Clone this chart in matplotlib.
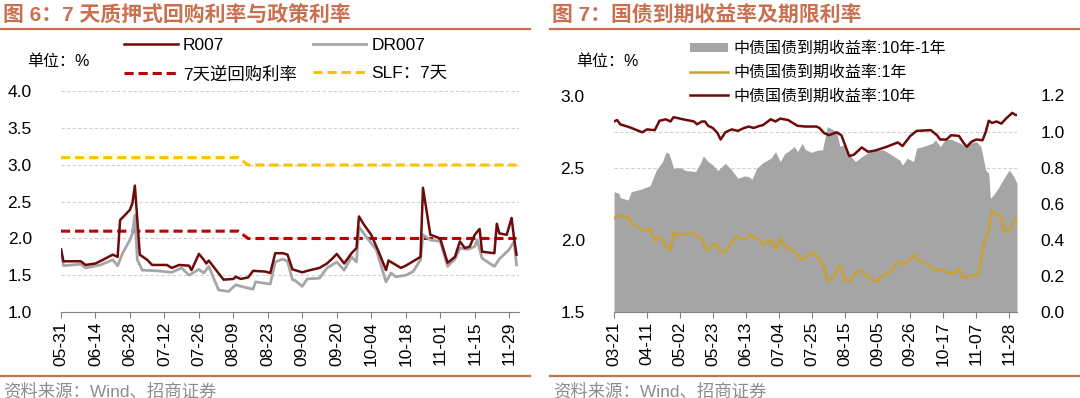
import matplotlib
matplotlib.use('Agg')
import matplotlib.pyplot as plt
import matplotlib.dates as mdates
from matplotlib.lines import Line2D
from matplotlib.patches import Patch
import pandas as pd

plt.rcParams['font.family'] = ['Liberation Sans', 'Noto Sans CJK SC', 'DejaVu Sans']

# ---- 图6 data: 7天质押式回购利率与政策利率 (2023) ----
r007_dates = ['05-31', '06-01', '06-08', '06-10', '06-14', '06-17', '06-21', '06-23', '06-24', '06-28',
              '06-29', '06-30', '07-02', '07-05', '07-07', '07-13', '07-15', '07-18', '07-22', '07-23',
              '07-26', '07-28', '07-29', '07-30', '08-02', '08-05', '08-09', '08-10', '08-12', '08-15',
              '08-17', '08-22', '08-24', '08-26', '08-29', '08-31', '09-02', '09-06', '09-08', '09-13',
              '09-16', '09-18', '09-20', '09-23', '09-26', '09-28', '09-29', '10-01', '10-04', '10-07',
              '10-10', '10-11', '10-14', '10-16', '10-18', '10-21', '10-24', '10-25', '10-28', '10-29',
              '11-01', '11-03', '11-04', '11-07', '11-09', '11-11', '11-13', '11-15', '11-17', '11-18',
              '11-23', '11-24', '11-25', '11-28', '11-30', '12-01', '12-02']
r007 = [1.85, 1.69, 1.69, 1.64, 1.66, 1.71, 1.78, 1.75, 2.25, 2.39,
        2.48, 2.72, 1.78, 1.71, 1.64, 1.64, 1.60, 1.64, 1.63, 1.57,
        1.79, 1.71, 1.66, 1.70, 1.57, 1.44, 1.45, 1.48, 1.45, 1.47,
        1.56, 1.55, 1.53, 1.80, 1.80, 1.78, 1.58, 1.54, 1.56, 1.60,
        1.66, 1.72, 1.79, 1.66, 1.80, 1.87, 2.30, 2.19, 2.05, 1.82,
        1.57, 1.70, 1.64, 1.60, 1.63, 1.69, 1.75, 2.69, 2.05, 2.04,
        2.00, 1.78, 1.67, 1.75, 1.96, 1.87, 1.89, 2.05, 2.13, 1.82,
        1.80, 2.20, 2.07, 2.05, 2.28, 2.00, 1.78]

dr007_dates = ['05-31', '06-01', '06-08', '06-10', '06-16', '06-21', '06-23', '06-25', '06-28', '06-29',
               '06-30', '07-01', '07-03', '07-09', '07-15', '07-19', '07-22', '07-26', '07-28', '07-30',
               '08-03', '08-07', '08-10', '08-12', '08-17', '08-18', '08-22', '08-24', '08-26', '08-29',
               '08-31', '09-02', '09-03', '09-06', '09-08', '09-13', '09-16', '09-20', '09-23', '09-26',
               '09-28', '09-29', '10-02', '10-06', '10-10', '10-12', '10-14', '10-18', '10-21', '10-24',
               '10-25', '10-28', '11-01', '11-04', '11-07', '11-09', '11-12', '11-15', '11-16', '11-18',
               '11-23', '11-25', '11-29', '12-01', '12-02']
dr007 = [1.85, 1.63, 1.65, 1.60, 1.64, 1.71, 1.63, 1.80, 1.98, 2.07,
         2.32, 1.71, 1.57, 1.56, 1.54, 1.60, 1.50, 1.58, 1.53, 1.62,
         1.30, 1.28, 1.37, 1.35, 1.31, 1.41, 1.39, 1.38, 1.68, 1.72,
         1.69, 1.44, 1.43, 1.35, 1.45, 1.46, 1.60, 1.68, 1.57, 1.75,
         1.68, 2.16, 2.02, 1.85, 1.41, 1.53, 1.48, 1.50, 1.55, 1.71,
         2.05, 1.98, 1.96, 1.62, 1.72, 1.87, 1.85, 1.89, 1.98, 1.73,
         1.62, 1.72, 1.85, 1.96, 1.64]

policy_dates = ['05-31', '08-11', '08-15', '12-02']
reverse_repo_7d = [2.1, 2.1, 2.0, 2.0]
slf_7d = [3.1, 3.1, 3.0, 3.0]

# ---- 图7 data: 国债到期收益率及期限利率 (2023) ----
y10_dates = ['03-21', '03-23', '03-25', '03-31', '04-08', '04-11', '04-16', '04-19', '04-23', '04-26',
             '04-28', '05-04', '05-11', '05-13', '05-16', '05-18', '05-20', '05-23', '05-26', '05-28',
             '05-31', '06-04', '06-08', '06-12', '06-15', '06-18', '06-22', '06-24', '06-29', '07-02',
             '07-05', '07-10', '07-16', '07-21', '07-28', '07-30', '08-02', '08-05', '08-10', '08-13',
             '08-18', '08-21', '08-26', '08-30', '09-04', '09-11', '09-18', '09-21', '09-26', '09-30',
             '10-09', '10-13', '10-15', '10-19', '10-22', '10-27', '10-30', '11-01', '11-04', '11-07',
             '11-11', '11-13', '11-15', '11-17', '11-20', '11-23', '11-26', '11-30', '12-02', '12-03']
y10 = [2.82, 2.83, 2.80, 2.78, 2.745, 2.765, 2.76, 2.825, 2.835, 2.82,
       2.85, 2.835, 2.82, 2.80, 2.82, 2.82, 2.79, 2.775, 2.74, 2.695,
       2.745, 2.765, 2.755, 2.775, 2.785, 2.775, 2.79, 2.795, 2.835, 2.82,
       2.84, 2.83, 2.79, 2.785, 2.785, 2.775, 2.74, 2.725, 2.745, 2.725,
       2.58, 2.59, 2.64, 2.61, 2.62, 2.645, 2.675, 2.65, 2.72, 2.755,
       2.76, 2.725, 2.695, 2.695, 2.725, 2.72, 2.67, 2.645, 2.68, 2.695,
       2.69, 2.745, 2.825, 2.81, 2.82, 2.805, 2.84, 2.88, 2.865, 2.865]

y1_dates = ['03-21', '03-24', '03-27', '03-30', '04-02', '04-07', '04-09', '04-13', '04-16', '04-19',
            '04-23', '04-26', '04-28', '04-30', '05-06', '05-11', '05-13', '05-16', '05-19', '05-22',
            '05-25', '05-28', '05-31', '06-03', '06-07', '06-11', '06-14', '06-16', '06-19', '06-22',
            '06-24', '06-29', '07-02', '07-05', '07-08', '07-13', '07-19', '07-23', '07-26', '07-28',
            '08-02', '08-04', '08-08', '08-11', '08-13', '08-15', '08-18', '08-21', '08-25', '08-31',
            '09-05', '09-07', '09-13', '09-17', '09-20', '09-22', '09-29', '10-01', '10-07', '10-11',
            '10-17', '10-20', '10-24', '10-27', '10-29', '11-01', '11-03', '11-08', '11-10', '11-12',
            '11-15', '11-17', '11-21', '11-23', '11-25', '11-27', '11-29', '12-01', '12-03']
y1 = [2.15, 2.17, 2.16, 2.155, 2.105, 2.08, 2.06, 2.08, 1.995, 2.02,
      1.955, 1.93, 2.055, 2.035, 2.04, 2.045, 2.02, 2.01, 1.93, 1.955,
      1.975, 1.92, 1.915, 1.965, 2.02, 2.005, 2.01, 2.04, 2.01, 2.00,
      1.965, 2.00, 1.935, 2.01, 1.955, 1.93, 1.86, 1.90, 1.905, 1.89,
      1.815, 1.71, 1.745, 1.815, 1.815, 1.725, 1.71, 1.755, 1.79, 1.735,
      1.71, 1.745, 1.775, 1.835, 1.85, 1.825, 1.90, 1.85, 1.835, 1.795,
      1.79, 1.77, 1.77, 1.805, 1.745, 1.735, 1.755, 1.755, 1.86, 1.975,
      2.07, 2.20, 2.17, 2.15, 2.055, 2.07, 2.07, 2.135, 2.155]

spread_dates = ['03-21', '03-24', '03-25', '03-30', '04-01', '04-07', '04-13', '04-17', '04-21', '04-23',
                '04-25', '04-28', '05-02', '05-06', '05-12', '05-15', '05-17', '05-20', '05-23', '05-26',
                '05-31', '06-04', '06-08', '06-12', '06-15', '06-17', '06-20', '06-24', '06-29', '07-02',
                '07-05', '07-08', '07-10', '07-14', '07-16', '07-19', '07-21', '07-25', '07-29', '08-01',
                '08-04', '08-08', '08-10', '08-12', '08-15', '08-18', '08-22', '08-26', '09-02', '09-09',
                '09-14', '09-19', '09-21', '09-24', '09-28', '09-30', '10-04', '10-10', '10-12', '10-15',
                '10-18', '10-22', '10-28', '10-31', '11-03', '11-07', '11-10', '11-13', '11-15', '11-16',
                '11-18', '11-21', '11-24', '11-28', '12-01', '12-03']
spread = [0.667, 0.658, 0.634, 0.621, 0.667, 0.68, 0.70, 0.787, 0.834, 0.884,
          0.88, 0.797, 0.80, 0.784, 0.778, 0.824, 0.865, 0.834, 0.815, 0.784,
          0.824, 0.787, 0.741, 0.754, 0.75, 0.736, 0.797, 0.828, 0.852, 0.889,
          0.834, 0.88, 0.889, 0.917, 0.889, 0.935, 0.90, 0.885, 0.898, 0.898,
          1.028, 1.009, 0.996, 0.92, 0.926, 0.871, 0.834, 0.861, 0.898, 0.898,
          0.871, 0.843, 0.815, 0.852, 0.834, 0.908, 0.917, 0.935, 0.954, 0.917,
          0.954, 0.957, 0.935, 0.917, 0.935, 0.945, 0.917, 0.787, 0.769, 0.63,
          0.649, 0.686, 0.732, 0.787, 0.75, 0.713]

W, H = 1080, 398
TITLE_COLOR = '#C8704F'
GRID_COLOR = '#D0D0D0'
AXIS_COLOR = '#808080'


def to_dt(days):
    return pd.to_datetime(['2023-' + d for d in days])


def rect(x0, y0, x1, y1):
    # pixel box (top-left origin) -> figure fraction
    return [x0 / W, 1 - y1 / H, (x1 - x0) / W, (y1 - y0) / H]


def style_xaxis(ax, ticks):
    ax.set_xticks(ticks)
    ax.xaxis.set_major_formatter(mdates.DateFormatter('%m-%d'))
    ax.tick_params(axis='x', direction='out', length=4, width=0.8, color=AXIS_COLOR,
                   labelsize=12.5, labelrotation=90, pad=3)
    for s in ['top', 'right', 'left']:
        ax.spines[s].set_visible(False)
    ax.spines['bottom'].set_color(AXIS_COLOR)
    ax.spines['bottom'].set_linewidth(0.8)


fig = plt.figure(figsize=(W / 100, H / 100), dpi=100)

# ---------------- left panel ----------------
fig.text(3 / W, 1 - 15.5 / H, '图 6：7 天质押式回购利率与政策利率', color=TITLE_COLOR,
         fontsize=15, fontweight='bold', va='center', ha='left')
fig.add_artist(Line2D([0, 530 / W], [1 - 28.7 / H] * 2, color=TITLE_COLOR, lw=1.6))
fig.add_artist(Line2D([0, 530 / W], [1 - 376 / H] * 2, color=TITLE_COLOR, lw=1.6))
fig.text(3 / W, 1 - 390.5 / H, '资料来源：Wind、招商证券', color='#8C8C8C',
         fontsize=12.5, va='center', ha='left')
fig.text(27 / W, 1 - 61.5 / H, '单位：%', fontsize=11.5, va='center', ha='left')

ax1 = fig.add_axes(rect(61, 91.5, 519, 312))
ax1.set_ylim(1.0, 4.0)
ax1.set_yticks([1.0, 1.5, 2.0, 2.5, 3.0, 3.5, 4.0])
ax1.set_yticklabels([f'{v:.1f}' for v in ax1.get_yticks()])
ax1.tick_params(axis='y', length=0, labelsize=12.5, pad=21)
ax1.set_axisbelow(True)
ax1.yaxis.grid(True, color=GRID_COLOR, linestyle=(0, (3, 2)), linewidth=0.8)

l_slf, = ax1.plot(to_dt(policy_dates), slf_7d, color='#FFC000', lw=2.2, ls=(0, (3, 1.6)))
l_rr, = ax1.plot(to_dt(policy_dates), reverse_repo_7d, color='#C00000', lw=2.2, ls=(0, (3, 1.6)))
l_dr, = ax1.plot(to_dt(dr007_dates), dr007, color='#A6A6A6', lw=2.0)
l_r, = ax1.plot(to_dt(r007_dates), r007, color='#6E0A0A', lw=1.8)

ax1.set_xlim(pd.Timestamp('2023-05-31'), pd.Timestamp('2023-12-03'))
style_xaxis(ax1, pd.date_range('2023-05-31', '2023-11-29', freq='14D'))

fig.legend([l_r, l_rr, l_dr, l_slf], ['R007', '7天逆回购利率', 'DR007', 'SLF：7天'],
           loc='upper left', bbox_to_anchor=(124 / W, 1 - 37.5 / H), ncol=2, frameon=False,
           fontsize=12.5, handlelength=3.1, handletextpad=0.3, columnspacing=0.9,
           labelspacing=0.78, borderpad=0, borderaxespad=0)

# ---------------- right panel ----------------
fig.text(552 / W, 1 - 15.5 / H, '图 7：国债到期收益率及期限利率', color=TITLE_COLOR,
         fontsize=15, fontweight='bold', va='center', ha='left')
fig.add_artist(Line2D([550 / W, 1], [1 - 28.7 / H] * 2, color=TITLE_COLOR, lw=1.6))
fig.add_artist(Line2D([550 / W, 1], [1 - 376 / H] * 2, color=TITLE_COLOR, lw=1.6))
fig.text(553 / W, 1 - 390.5 / H, '资料来源：Wind、招商证券', color='#8C8C8C',
         fontsize=12.5, va='center', ha='left')
fig.text(576 / W, 1 - 61.5 / H, '单位：%', fontsize=11.5, va='center', ha='left')

ax2 = fig.add_axes(rect(614, 95.5, 1017, 312))
ax3 = ax2.twinx()
# lines (left axis) above the spread area (right axis)
ax2.set_zorder(ax3.get_zorder() + 1)
ax2.patch.set_visible(False)

ax3.fill_between(to_dt(spread_dates), 0, spread, color='#A5A5A5', lw=0, zorder=2)
ax3.set_ylim(0, 1.2)
ax3.set_yticks([0.0, 0.2, 0.4, 0.6, 0.8, 1.0, 1.2])
ax3.set_yticklabels([f'{v:.1f}' for v in ax3.get_yticks()])
ax3.tick_params(axis='y', length=0, labelsize=12.5, pad=17)
ax3.set_axisbelow(True)
ax3.yaxis.grid(True, color=GRID_COLOR, linestyle=(0, (3, 2)), linewidth=0.8, zorder=0)
for s in ['top', 'right', 'left', 'bottom']:
    ax3.spines[s].set_visible(False)

l_y1, = ax2.plot(to_dt(y1_dates), y1, color='#C9A034', lw=1.8)
l_y10, = ax2.plot(to_dt(y10_dates), y10, color='#6E0A0A', lw=1.8)
ax2.set_ylim(1.5, 3.0)
ax2.set_yticks([1.5, 2.0, 2.5, 3.0])
ax2.set_yticklabels([f'{v:.1f}' for v in ax2.get_yticks()])
ax2.tick_params(axis='y', length=0, labelsize=12.5, pad=21)
ax2.set_xlim(pd.Timestamp('2023-03-21'), pd.Timestamp('2023-12-03'))
style_xaxis(ax2, pd.date_range('2023-03-21', '2023-11-28', freq='21D'))
ax3.set_xlim(ax2.get_xlim())

fig.legend([Patch(facecolor='#A5A5A5', edgecolor='none'), l_y1, l_y10],
           ['中债国债到期收益率:10年-1年', '中债国债到期收益率:1年', '中债国债到期收益率:10年'],
           loc='upper left', bbox_to_anchor=(690 / W, 1 - 41 / H), ncol=1, frameon=False,
           fontsize=11.5, handlelength=2.4, handleheight=0.5, handletextpad=0.35,
           labelspacing=0.55, borderpad=0, borderaxespad=0)

fig.savefig('out.png', dpi=100)
